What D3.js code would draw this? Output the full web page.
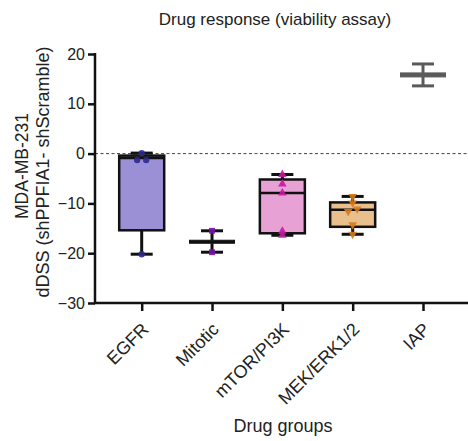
<!DOCTYPE html>
<html>
<head>
<meta charset="utf-8">
<script src="https://cdn.jsdelivr.net/npm/d3@7"></script>
<style>
  body { margin: 0; background: #fff; }
  text { font-family: "Liberation Sans", Arial, sans-serif; fill: #222; }
</style>
</head>
<body>
<div id="chart"></div>
<script>
// categories and box stats (min, q1, median, q3, max)
var groups = ["EGFR", "Mitotic", "mTOR/PI3K", "MEK/ERK1/2", "IAP"];
var boxMin    = [-20.2, -19.8, -16.4, -16.2, 13.6];
var boxQ1     = [-15.4, -18.0, -16.0, -14.7, 15.4];
var boxMedian = [-0.9,  -17.7, -7.9,  -11.3, 15.8];
var boxQ3     = [-0.4,  -17.4, -5.2,  -9.8,  16.2];
var boxMax    = [0.1,   -15.5, -4.2,  -8.6,  18.0];

// individual points per group
var egfrPts = [0.1, -1.3, -1.3, -20.2];
var mitoticPts = [-15.5, -19.8];
var mtorPts = [-4.2, -6.1, -7.9, -15.6, -16.4];
var mekPts = [-8.6, -9.9, -11.6, -11.1, -14.3, -16.2];
var iapPts = [];
var allPts = [egfrPts, mitoticPts, mtorPts, mekPts, iapPts];
// small horizontal jitter seen in the picture (px)
var jitter = [[0, -4.5, 4.5, 0], [0, 0], [0, 0, 0, 0, 0], [0, 0, -4.5, 4.5, 0, 0], []];

var fills = ["#9b8fd6", "#000000", "#e8a1d5", "#e9bf8c", "#5a5a5a"];
var pointColors = ["#2d2990", "#7a10aa", "#c41a9f", "#d77a1c", "#5a5a5a"];
var yTicks = [20, 10, 0, -10, -20, -30];

var W = 468, H = 441;
var svg = d3.select("#chart").append("svg").attr("width", W).attr("height", H);

var x0 = 95, x1 = 468, yTop = 54, yBot = 303;
var x = d3.scalePoint().domain(groups).range([141.7, 423]);
var y = d3.scaleLinear().domain([-30, 20]).range([yBot, yTop]);

// dashed zero line
svg.append("line")
  .attr("x1", x0).attr("x2", x1)
  .attr("y1", y(0)).attr("y2", y(0))
  .attr("stroke", "#444").attr("stroke-width", 1)
  .attr("stroke-dasharray", "3,2.5");

var boxW = 45, capW = 22;
groups.forEach(function(g, i) {
  var cx = x(g);
  var isThin = (i == 1 || i == 4); // these collapse to a thick bar
  var col = i == 4 ? "#5a5a5a" : "#111";
  var gEl = svg.append("g");

  // whiskers
  gEl.append("line").attr("x1", cx).attr("x2", cx).attr("y1", y(boxMax[i])).attr("y2", y(boxQ3[i]))
    .attr("stroke", col).attr("stroke-width", 3);
  gEl.append("line").attr("x1", cx).attr("x2", cx).attr("y1", y(boxQ1[i])).attr("y2", y(boxMin[i]))
    .attr("stroke", col).attr("stroke-width", 3);
  [boxMax[i], boxMin[i]].forEach(function(v) {
    gEl.append("line").attr("x1", cx - capW / 2).attr("x2", cx + capW / 2)
      .attr("y1", y(v)).attr("y2", y(v))
      .attr("stroke", col).attr("stroke-width", 3);
  });

  if (isThin) {
    gEl.append("rect")
      .attr("x", cx - boxW / 2).attr("width", boxW)
      .attr("y", y(boxQ3[i])).attr("height", y(boxQ1[i]) - y(boxQ3[i]))
      .attr("fill", col).attr("stroke", col).attr("stroke-width", 1);
  } else {
    gEl.append("rect")
      .attr("x", cx - boxW / 2).attr("width", boxW)
      .attr("y", y(boxQ3[i])).attr("height", y(boxQ1[i]) - y(boxQ3[i]))
      .attr("fill", fills[i]).attr("stroke", "#111").attr("stroke-width", 2.5);
    gEl.append("line").attr("x1", cx - boxW / 2).attr("x2", cx + boxW / 2)
      .attr("y1", y(boxMedian[i])).attr("y2", y(boxMedian[i]))
      .attr("stroke", "#111").attr("stroke-width", 2.5);
  }

  // points
  var sym = [d3.symbolCircle, d3.symbolSquare, d3.symbolTriangle, d3.symbolTriangle, d3.symbolCircle][i];
  allPts[i].forEach(function(v, j) {
    var rot = i == 3 ? " rotate(180)" : "";
    gEl.append("path")
      .attr("d", d3.symbol().type(sym).size(i == 1 ? 34 : 32)())
      .attr("transform", "translate(" + (cx + jitter[i][j]) + "," + y(v) + ")" + rot)
      .attr("fill", pointColors[i]).attr("opacity", 0.9);
  });
});

// y axis
var yAxis = svg.append("g").attr("transform", "translate(" + x0 + ",0)")
  .call(d3.axisLeft(y).tickValues(yTicks).tickSize(7).tickPadding(3).tickFormat(function(d) { return d < 0 ? "\u2212" + (-d) : d; }));
yAxis.attr("font-size", null).attr("font-family", null);
yAxis.select(".domain").attr("stroke", "#111").attr("stroke-width", 2.5).attr("d", "M0," + (yTop - 1) + "V" + (yBot + 1));
yAxis.selectAll(".tick line").attr("stroke", "#111").attr("stroke-width", 2.5);
yAxis.selectAll(".tick text").style("font-size", "16px").attr("fill", "#222");

// x axis
var xAxis = svg.append("g").attr("transform", "translate(0," + yBot + ")")
  .call(d3.axisBottom(x).tickSize(8).tickPadding(6));
xAxis.attr("font-size", null).attr("font-family", null);
xAxis.select(".domain").attr("stroke", "#111").attr("stroke-width", 2.5).attr("d", "M" + (x0 - 1) + ",0H" + x1);
xAxis.selectAll(".tick line").attr("stroke", "#111").attr("stroke-width", 2.5);
xAxis.selectAll(".tick text")
  .style("font-size", "18px").attr("fill", "#222")
  .attr("text-anchor", "end")
  .attr("dy", "0.35em")
  .attr("transform", "translate(3,23) rotate(-45)")
  .attr("x", 0).attr("y", 0);

// titles
svg.append("text").attr("x", 275).attr("y", 25).attr("text-anchor", "middle")
  .style("font-size", "17px").text("Drug response (viability assay)");
svg.append("text").attr("x", 283).attr("y", 432).attr("text-anchor", "middle")
  .style("font-size", "18px").text("Drug groups");
svg.append("text").attr("transform", "translate(28,166) rotate(-90)").attr("text-anchor", "middle")
  .style("font-size", "17.5px").text("MDA-MB-231");
svg.append("text").attr("transform", "translate(49,172) rotate(-90)").attr("text-anchor", "middle")
  .style("font-size", "18px").text("dDSS (shPPFIA1- shScramble)");
</script>
</body>
</html>
